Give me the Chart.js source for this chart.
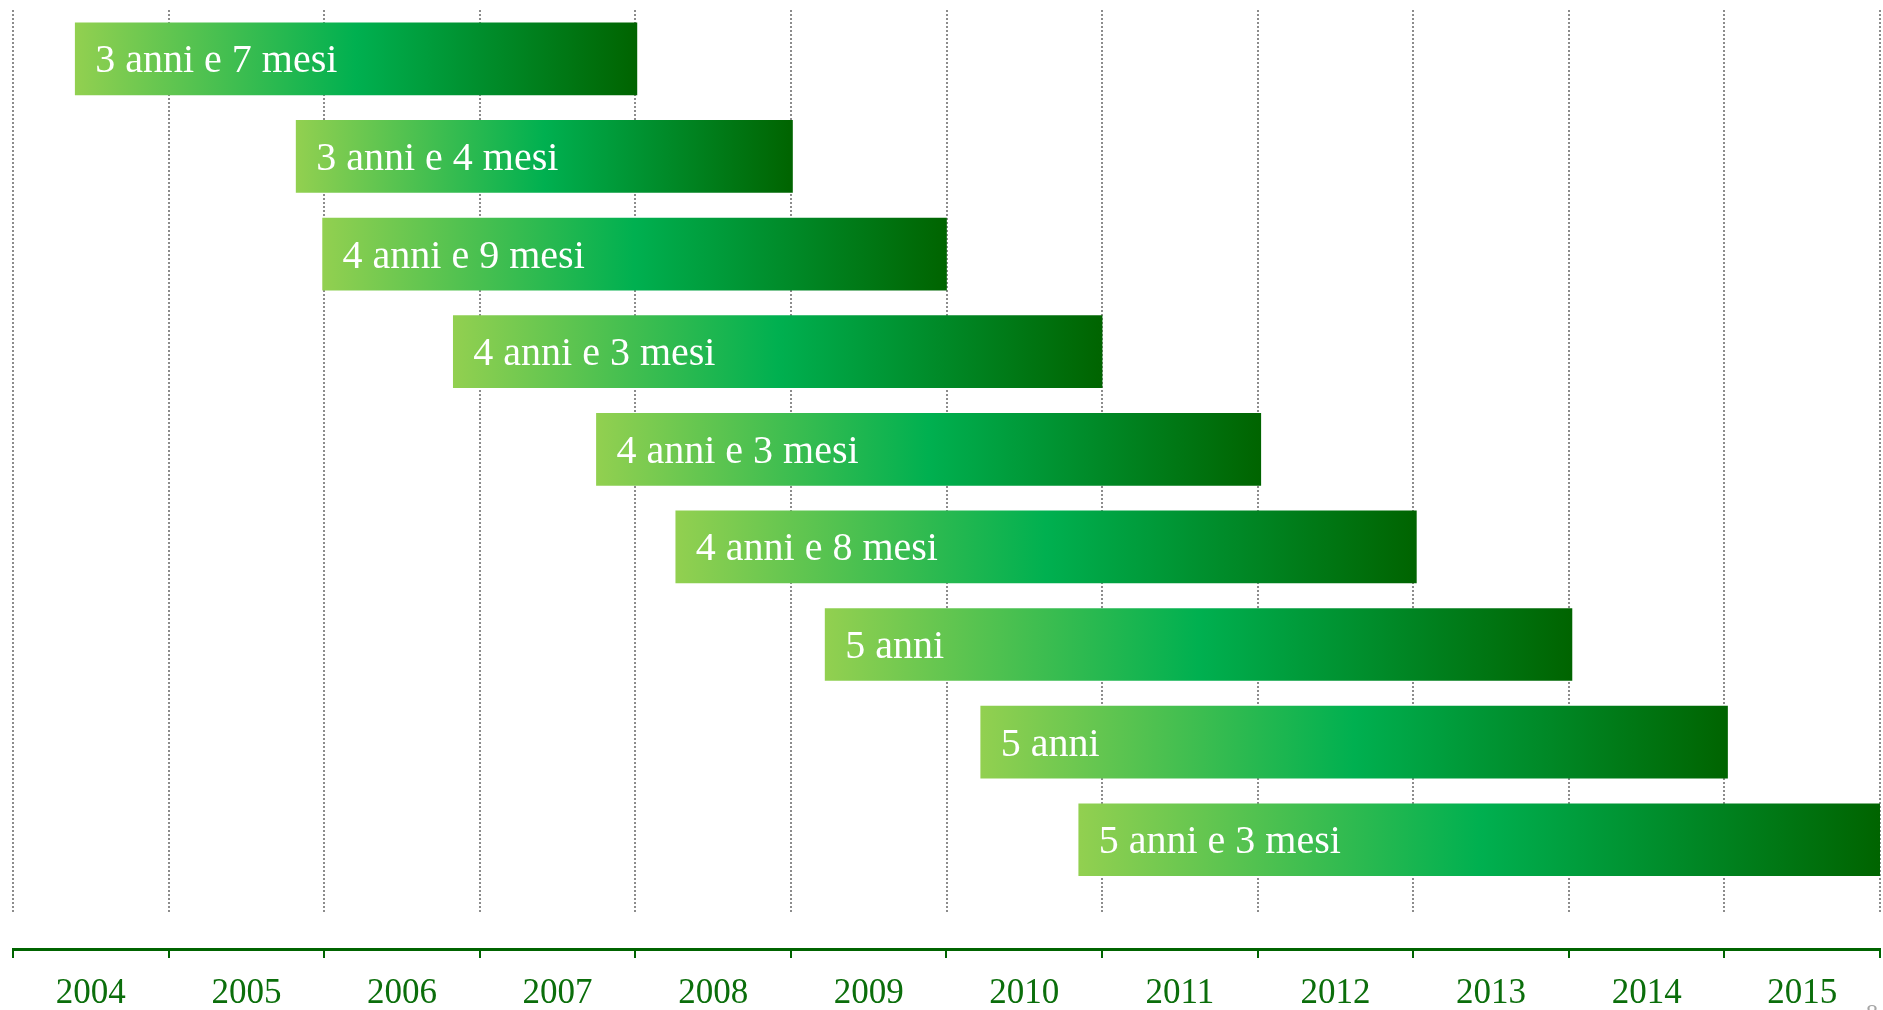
<!DOCTYPE html>
<html>
<head>
<meta charset="utf-8">
<script src="https://cdn.jsdelivr.net/npm/chart.js@4"></script>
<style>
  html, body { margin: 0; padding: 0; background: #ffffff; overflow: hidden; }
  #wrap { position: relative; width: 1883px; height: 1010px; overflow: hidden; }
  #pageNum { position: absolute; left: 1866px; top: 1000px; font: 24px 'Liberation Serif', serif; color: #a6a6a6; line-height: 1; }
</style>
</head>
<body>
<div id="wrap">
  <canvas id="c"></canvas>
  <span id="pageNum">8</span>
</div>
<script>
// ---- data ----
const categories = ['3 anni e 7 mesi', '3 anni e 4 mesi', '4 anni e 9 mesi', '4 anni e 3 mesi', '4 anni e 3 mesi', '4 anni e 8 mesi', '5 anni', '5 anni', '5 anni e 3 mesi'];
const startYears = [2004.40, 2005.82, 2005.99, 2006.83, 2007.75, 2008.26, 2009.22, 2010.22, 2010.85];
const endYears   = [2008.01, 2009.01, 2010.00, 2011.00, 2012.02, 2013.02, 2014.02, 2015.02, 2016.00];
const tickLabels = ['2004', '2005', '2006', '2007', '2008', '2009', '2010', '2011', '2012', '2013', '2014', '2015'];
const axisMin = 2004, axisMax = 2016;
const rowMin = -0.5, rowMax = 8.75;

const points = categories.map((c, i) => ({ x: [startYears[i], endYears[i]], y: i }));

function barGradient(ctx) {
  const chart = ctx.chart;
  const xs = chart.scales && chart.scales.x;
  if (!chart.chartArea || !xs || ctx.dataIndex === undefined) return '#00B050';
  const i = ctx.dataIndex;
  const x0 = xs.getPixelForValue(startYears[i]);
  const x1 = xs.getPixelForValue(endYears[i]);
  const g = chart.ctx.createLinearGradient(x0, 0, x1, 0);
  g.addColorStop(0, '#92D050');
  g.addColorStop(0.5, '#00B050');
  g.addColorStop(1, '#006400');
  return g;
}

const barLabels = {
  id: 'barLabels',
  afterDatasetsDraw(chart) {
    const ctx = chart.ctx;
    const meta = chart.getDatasetMeta(0);
    ctx.save();
    ctx.fillStyle = '#ffffff';
    ctx.font = "40px 'Liberation Serif', serif";
    ctx.textBaseline = 'middle';
    ctx.textAlign = 'left';
    meta.data.forEach((el, i) => {
      const left = Math.min(el.base, el.x);
      ctx.fillText(categories[i], left + 20, el.y + 3);
    });
    ctx.restore();
  }
};

new Chart(document.getElementById('c'), {
  type: 'bar',
  data: {
    datasets: [{
      data: points,
      backgroundColor: barGradient,
      borderWidth: 0,
      borderSkipped: false,
      barThickness: 72
    }]
  },
  options: {
    indexAxis: 'y',
    responsive: true,
    maintainAspectRatio: false,
    animation: false,
    layout: { padding: { left: 13, right: 3, top: 10, bottom: 0 } },
    plugins: { legend: { display: false }, tooltip: { enabled: false } },
    scales: {
      y: {
        type: 'linear',
        display: false,
        reverse: true,
        offset: false,
        bounds: 'data',
        grace: 0,
        min: rowMin,
        max: rowMax,
        ticks: { stepSize: 1 },
        afterDataLimits(scale) { scale.min = rowMin; scale.max = rowMax; }
      },
      x: {
        type: 'linear',
        position: 'bottom',
        weight: 0,
        offset: false,
        min: axisMin,
        max: axisMax,
        ticks: { display: false, stepSize: 1 },
        border: { display: false, dash: [2, 2] },
        grid: {
          offset: false,
          drawOnChartArea: true,
          drawTicks: false,
          color: '#8c8c8c',
          lineWidth: 2
        },
        afterFit(scale) { scale.height = 36; }
      },
      x2: {
        type: 'category',
        position: 'bottom',
        weight: 1,
        labels: tickLabels,
        offset: true,
        border: { display: true, color: '#006400', width: 3 },
        grid: {
          offset: true,
          drawOnChartArea: false,
          drawTicks: true,
          tickLength: 9,
          color: '#006400',
          lineWidth: 2
        },
        ticks: {
          color: '#0b6e0b',
          font: { family: "'Liberation Serif', serif", size: 35 },
          padding: 15,
          maxRotation: 0,
          autoSkip: false
        },
        afterFit(scale) { scale.height = 61; }
      }
    }
  },
  plugins: [barLabels]
});
</script>
</body>
</html>
